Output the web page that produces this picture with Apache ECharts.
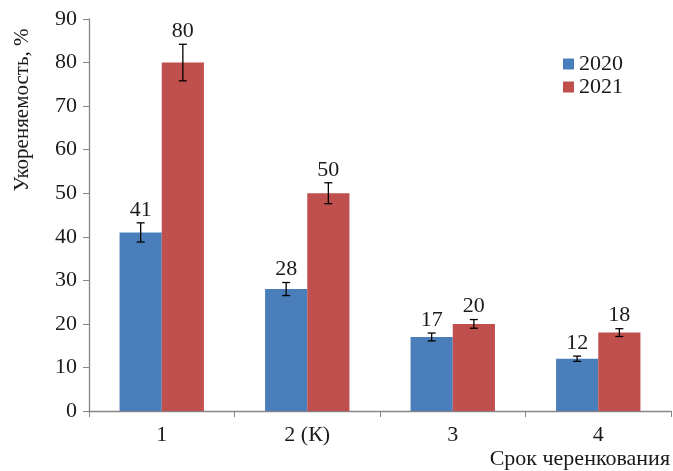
<!DOCTYPE html>
<html><head><meta charset="utf-8">
<script src="https://cdn.jsdelivr.net/npm/echarts@6/dist/echarts.min.js"></script>
<style>html,body{margin:0;padding:0;background:#fff}#c{width:673px;height:471px}</style>
</head><body><div id="c"></div>
<script>
var categories = ['1', '2 (К)', '3', '4'];
var values2020 = [41, 28, 17, 12];
var values2021 = [80, 50, 20, 18];
var err2020 = [2.2, 1.5, 0.9, 0.6];
var err2021 = [4.2, 2.4, 1.0, 0.9];
var yTicks = [0, 10, 20, 30, 40, 50, 60, 70, 80, 90];

var FONT = 'Liberation Serif';
var CAT_GAP = 0.42;
var chart = echarts.init(document.getElementById('c'));

function errSeries(name, vals, errs, side) {
  return {
    type: 'custom', name: name + '_err', silent: true, z: 5,
    data: vals.map(function (v, i) { return [i, v, errs[i]]; }),
    renderItem: function (params, api) {
      var i = api.value(0), v = api.value(1), e = api.value(2);
      var catW = api.size([1, 0])[0];
      var bw = catW * (1 - CAT_GAP) / 2;
      var c = api.coord([i, v]);
      var x = c[0] + side * bw / 2;
      var top = api.coord([i, v + e])[1];
      var bot = api.coord([i, v - e])[1];
      var cap = 4;
      var st = { stroke: '#000', lineWidth: 1.3 };
      return { type: 'group', children: [
        { type: 'line', shape: { x1: x, y1: top, x2: x, y2: bot }, style: st },
        { type: 'line', shape: { x1: x - cap, y1: top, x2: x + cap, y2: top }, style: st },
        { type: 'line', shape: { x1: x - cap, y1: bot, x2: x + cap, y2: bot }, style: st },
        { type: 'text', style: { x: x, y: top - 2, text: String(v), textAlign: 'center', textVerticalAlign: 'bottom',
          fontFamily: FONT, fontSize: 22, fill: '#1a1a1a' } }
      ] };
    }
  };
}

chart.setOption({
  animation: false,
  textStyle: { fontFamily: FONT },
  grid: { left: 89, right: 2, top: 19, bottom: 60 },
  legend: {
    data: ['2020', '2021'], orient: 'vertical', left: 558, top: 48,
    itemWidth: 11, itemHeight: 11, itemGap: 1, icon: 'rect',
    textStyle: { fontFamily: FONT, fontSize: 22, color: '#1a1a1a' }
  },
  xAxis: {
    type: 'category', data: categories,
    axisLine: { lineStyle: { color: '#868686', width: 1.3 } },
    axisTick: { show: true, length: 6, lineStyle: { color: '#868686' } },
    axisLabel: { fontFamily: FONT, fontSize: 22, color: '#1a1a1a', margin: 13 }
  },
  yAxis: {
    type: 'value', min: 0, max: 90, interval: 10,
    axisLine: { show: true, lineStyle: { color: '#868686', width: 1.3 } },
    axisTick: { show: true, length: 6, lineStyle: { color: '#868686' } },
    splitLine: { show: false },
    axisLabel: { fontFamily: FONT, fontSize: 22, color: '#1a1a1a', margin: 12,
      formatter: function (v) { return yTicks.indexOf(v) >= 0 ? String(v) : ''; } }
  },
  graphic: [
    { type: 'text', x: 22, y: 110, rotation: Math.PI / 2,
      style: { text: 'Укореняемость, %', fontFamily: FONT, fontSize: 21, fill: '#1a1a1a', textAlign: 'center', textVerticalAlign: 'middle' } },
    { type: 'text', right: 3, top: 448,
      style: { text: 'Срок черенкования', fontFamily: FONT, fontSize: 22, fill: '#1a1a1a' } }
  ],
  series: [
    { name: '2020', type: 'bar', data: values2020, barGap: '0%', barCategoryGap: (CAT_GAP * 100) + '%',
      itemStyle: { color: '#4a7ebb' } },
    { name: '2021', type: 'bar', data: values2021, barGap: '0%', barCategoryGap: (CAT_GAP * 100) + '%',
      itemStyle: { color: '#c0504d' } },
    errSeries('2020', values2020, err2020, -1),
    errSeries('2021', values2021, err2021, 1)
  ]
});
</script></body></html>
